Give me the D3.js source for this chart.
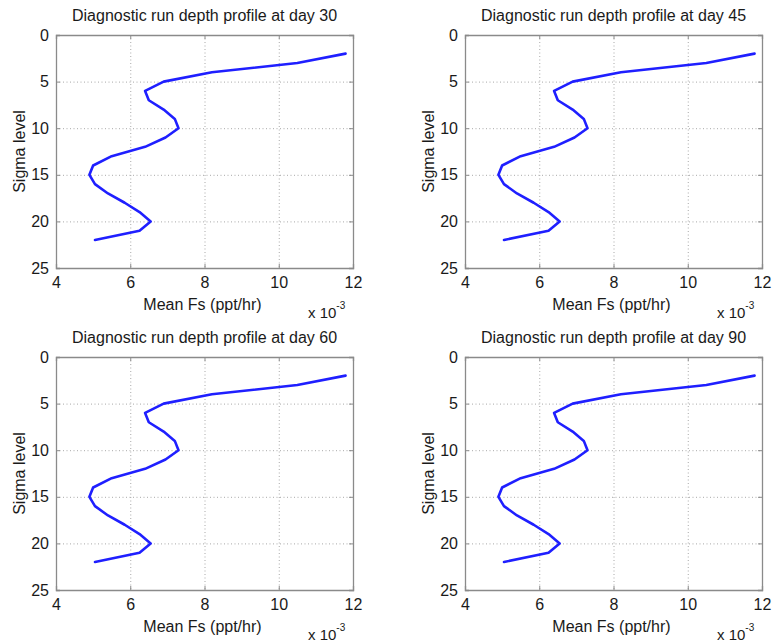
<!DOCTYPE html>
<html>
<head>
<meta charset="utf-8">
<script src="https://cdn.jsdelivr.net/npm/d3@7"></script>
<style>
  html, body { margin: 0; padding: 0; background: #fff; }
  svg { display: block; }
  text { font-family: "Liberation Sans", Arial, Helvetica, sans-serif; fill: #1a1a1a; }
</style>
</head>
<body>
<svg id="chart" width="773" height="644"></svg>
<script>
// Sigma levels of the model (surface = 0, increasing downward)
const sigmaLevels = [2, 3, 4, 5, 6, 7, 8, 9, 10, 11, 12, 13, 14, 15, 16, 17, 18, 19, 20, 21, 22];

// Mean Fs (ppt/hr, in units of 10^-3) per sigma level, one profile per day
const meanFsDay30 = [11.8, 10.5, 8.2, 6.9, 6.4, 6.5, 6.9, 7.2, 7.3, 6.95, 6.4, 5.5, 5.0, 4.9, 5.05, 5.4, 5.85, 6.25, 6.55, 6.25, 5.05];
const meanFsDay45 = [11.8, 10.5, 8.2, 6.9, 6.4, 6.5, 6.9, 7.2, 7.3, 6.95, 6.4, 5.5, 5.0, 4.9, 5.05, 5.4, 5.85, 6.25, 6.55, 6.25, 5.05];
const meanFsDay60 = [11.8, 10.5, 8.2, 6.9, 6.4, 6.5, 6.9, 7.2, 7.3, 6.95, 6.4, 5.5, 5.0, 4.9, 5.05, 5.4, 5.85, 6.25, 6.55, 6.25, 5.05];
const meanFsDay90 = [11.8, 10.5, 8.2, 6.9, 6.4, 6.5, 6.9, 7.2, 7.3, 6.95, 6.4, 5.5, 5.0, 4.9, 5.05, 5.4, 5.85, 6.25, 6.55, 6.25, 5.05];

const days = [30, 45, 60, 90];
const profiles = [meanFsDay30, meanFsDay45, meanFsDay60, meanFsDay90];

// Axis ticks
const xTicks = [4, 6, 8, 10, 12];
const yTicks = [0, 5, 10, 15, 20, 25];
const xDomain = [4, 12];
const yDomain = [0, 25];
const xExponent = "-3";

const titlePrefix = "Diagnostic run depth profile at day ";
const xLabel = "Mean Fs (ppt/hr)";
const yLabel = "Sigma level";

// Panel frames (2 x 2 grid)
const frames = [
  { left: 56,  top: 35,  width: 297, height: 233 },
  { left: 465, top: 35,  width: 297, height: 233 },
  { left: 56,  top: 357, width: 297, height: 233 },
  { left: 465, top: 357, width: 297, height: 233 }
];

const svg = d3.select("#chart");
const FONT = 16;

days.forEach((day, i) => {
  const f = frames[i];
  const values = profiles[i];
  const g = svg.append("g").attr("transform", `translate(${f.left},${f.top})`);

  const x = d3.scaleLinear().domain(xDomain).range([0, f.width]);
  const y = d3.scaleLinear().domain(yDomain).range([0, f.height]);

  // dotted grid
  const grid = g.append("g")
    .attr("stroke", "#a8a8a8")
    .attr("stroke-width", 1)
    .attr("stroke-dasharray", "1,2.5");
  grid.selectAll("line.vx")
    .data(xTicks.filter(t => t > xDomain[0] && t < xDomain[1]))
    .join("line")
    .attr("x1", d => x(d) + 0.5).attr("x2", d => x(d) + 0.5)
    .attr("y1", 0).attr("y2", f.height);
  grid.selectAll("line.hy")
    .data(yTicks.filter(t => t > yDomain[0] && t < yDomain[1]))
    .join("line")
    .attr("x1", 0).attr("x2", f.width)
    .attr("y1", d => y(d) + 0.5).attr("y2", d => y(d) + 0.5);

  // axes with inward ticks on all four sides
  const tickLen = 4;
  const bottom = g.append("g").attr("transform", `translate(0,${f.height})`)
    .call(d3.axisBottom(x).tickValues(xTicks).tickSize(-tickLen).tickPadding(8).tickFormat(d3.format("d")));
  const top = g.append("g")
    .call(d3.axisTop(x).tickValues(xTicks).tickSize(-tickLen).tickFormat(""));
  const left = g.append("g")
    .call(d3.axisLeft(y).tickValues(yTicks).tickSize(-tickLen).tickPadding(7).tickFormat(d3.format("d")));
  const right = g.append("g").attr("transform", `translate(${f.width},0)`)
    .call(d3.axisRight(y).tickValues(yTicks).tickSize(-tickLen).tickFormat(""));

  [bottom, top, left, right].forEach(a => {
    a.select(".domain").attr("stroke", "#8a8a8a").attr("stroke-width", 1.3);
    a.selectAll(".tick line").attr("stroke", "#8a8a8a");
    a.selectAll(".tick text")
      .attr("font-size", FONT)
      .attr("font-family", "Liberation Sans, Arial, sans-serif")
      .attr("fill", "#1a1a1a");
  });
  bottom.selectAll(".tick text").attr("dy", "0.75em").attr("y", 8);

  // profile line
  const line = d3.line()
    .x((d, k) => x(d))
    .y((d, k) => y(sigmaLevels[k]));
  g.append("path")
    .datum(values)
    .attr("fill", "none")
    .attr("stroke", "#1f1fff")
    .attr("stroke-width", 2.6)
    .attr("stroke-linejoin", "round")
    .attr("stroke-linecap", "round")
    .attr("d", line);

  // title
  g.append("text")
    .attr("x", f.width / 2)
    .attr("y", -14)
    .attr("text-anchor", "middle")
    .attr("font-size", FONT)
    .text(titlePrefix + day);

  // x label
  g.append("text")
    .attr("x", f.width / 2 - 2)
    .attr("y", f.height + 42)
    .attr("text-anchor", "middle")
    .attr("font-size", FONT)
    .text(xLabel);

  // exponent multiplier
  const mult = g.append("text")
    .attr("x", f.width - 45)
    .attr("y", f.height + 50)
    .attr("font-size", FONT - 1);
  mult.append("tspan").text("x 10");
  mult.append("tspan")
    .attr("dy", -9)
    .attr("font-size", 10)
    .text(xExponent);

  // y label
  g.append("text")
    .attr("transform", `translate(-31,${f.height / 2}) rotate(-90)`)
    .attr("text-anchor", "middle")
    .attr("font-size", FONT)
    .text(yLabel);
});
</script>
</body>
</html>
